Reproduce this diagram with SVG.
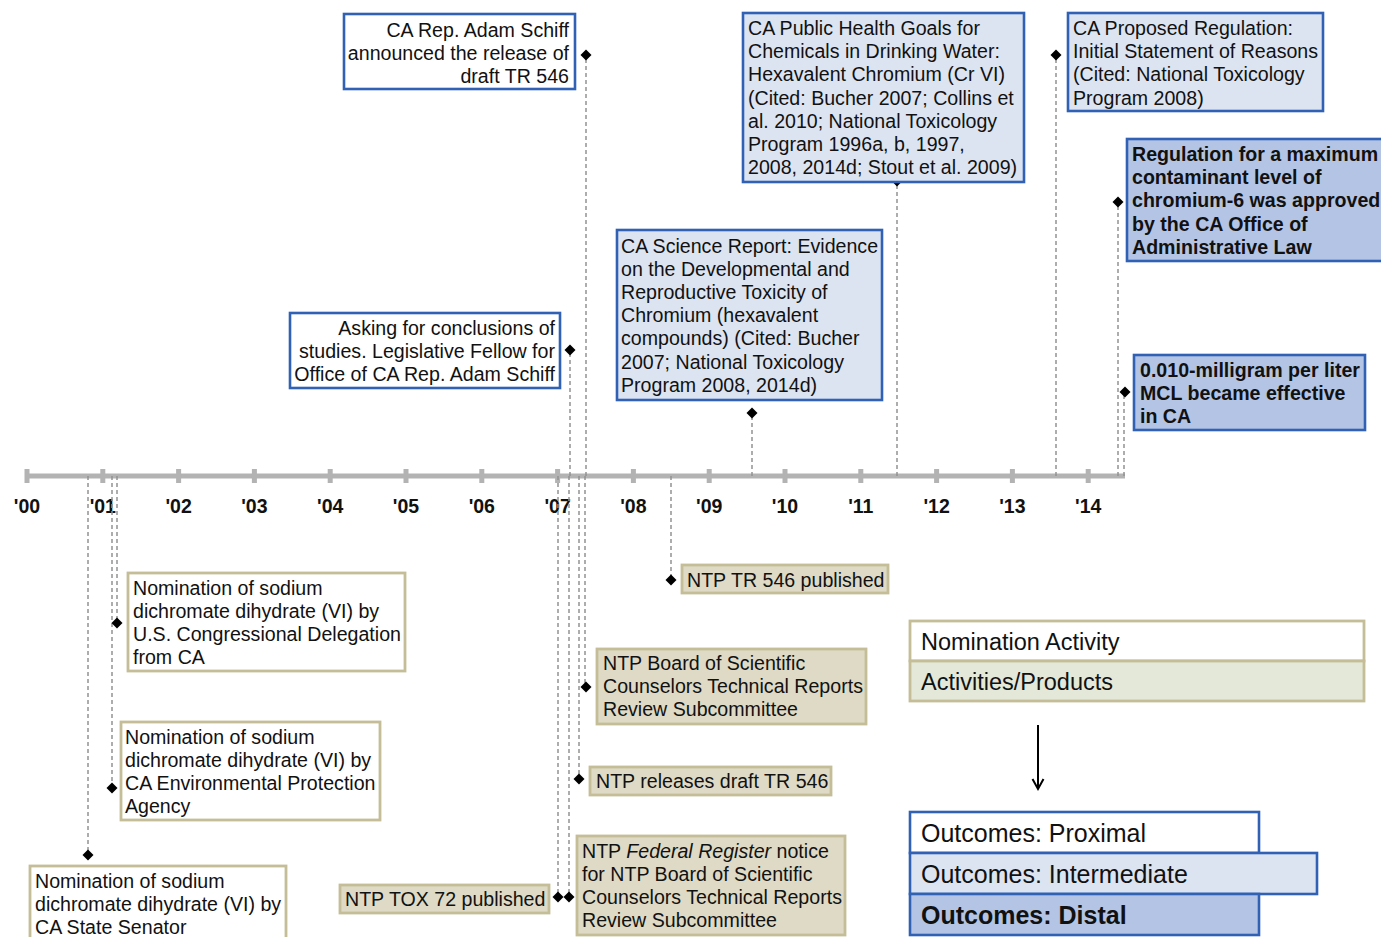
<svg xmlns="http://www.w3.org/2000/svg" xmlns:xlink="http://www.w3.org/1999/xlink" width="1381" height="937" viewBox="0 0 1381 937">
<style>
text{font-family:"Liberation Sans",Arial,sans-serif;font-size:19.6px;fill:#111}
.yr{font-weight:bold;font-size:19.5px;text-anchor:middle}
.b{font-weight:bold}
.r{text-anchor:end}
.prox{fill:#fff;stroke:#3061b4;stroke-width:2.6}
.inter{fill:#dce4f1;stroke:#3061b4;stroke-width:2.6}
.dist{fill:#b4c4e4;stroke:#3061b4;stroke-width:2.6}
.nom{fill:#fff;stroke:#c4bd97;stroke-width:2.8}
.act{fill:#dedac5;stroke:#c4bd97;stroke-width:2.8}
.act2{fill:#e4e8d8;stroke:#c4bd97;stroke-width:2.8}
.dash{stroke:#939393;stroke-width:1.5;stroke-dasharray:4 3;fill:none}
.lg{font-size:23.5px}
.lo{font-size:25px}
</style>
<defs>
<path id="dm" d="M0,-5.5 L5.5,0 L0,5.5 L-5.5,0Z" fill="#000"/>
</defs>
<rect width="1381" height="937" fill="#fff"/>

<g id="timeline">
<line x1="25" y1="476" x2="1125" y2="476" stroke="#b3b3b3" stroke-width="5"/>
<g fill="#b3b3b3">
<rect x="24.5" y="469" width="5" height="14"/>
<rect x="100.3" y="469" width="5" height="14"/>
<rect x="176.1" y="469" width="5" height="14"/>
<rect x="251.9" y="469" width="5" height="14"/>
<rect x="327.7" y="469" width="5" height="14"/>
<rect x="403.5" y="469" width="5" height="14"/>
<rect x="479.3" y="469" width="5" height="14"/>
<rect x="555.1" y="469" width="5" height="14"/>
<rect x="630.9" y="469" width="5" height="14"/>
<rect x="706.7" y="469" width="5" height="14"/>
<rect x="782.5" y="469" width="5" height="14"/>
<rect x="858.3" y="469" width="5" height="14"/>
<rect x="934.1" y="469" width="5" height="14"/>
<rect x="1009.9" y="469" width="5" height="14"/>
<rect x="1085.7" y="469" width="5" height="14"/>
</g>
<text class="yr" x="27" y="513">'00</text>
<text class="yr" x="102.8" y="513">'01</text>
<text class="yr" x="178.6" y="513">'02</text>
<text class="yr" x="254.4" y="513">'03</text>
<text class="yr" x="330.2" y="513">'04</text>
<text class="yr" x="406" y="513">'05</text>
<text class="yr" x="481.8" y="513">'06</text>
<text class="yr" x="557.6" y="513">'07</text>
<text class="yr" x="633.4" y="513">'08</text>
<text class="yr" x="709.2" y="513">'09</text>
<text class="yr" x="785" y="513">'10</text>
<text class="yr" x="860.8" y="513">'11</text>
<text class="yr" x="936.6" y="513">'12</text>
<text class="yr" x="1012.4" y="513">'13</text>
<text class="yr" x="1088.2" y="513">'14</text>
</g>

<g id="connectors">
<line class="dash" x1="570" y1="476" x2="570" y2="350"/>
<line class="dash" x1="586" y1="476" x2="586" y2="55"/>
<line class="dash" x1="752" y1="476" x2="752" y2="413"/>
<line class="dash" x1="897" y1="476" x2="897" y2="181"/>
<line class="dash" x1="1056" y1="476" x2="1056" y2="55"/>
<line class="dash" x1="1118" y1="476" x2="1118" y2="202"/>
<line class="dash" x1="1124" y1="476" x2="1124" y2="392"/>
<line class="dash" x1="88" y1="476" x2="88" y2="855"/>
<line class="dash" x1="112" y1="476" x2="112" y2="788"/>
<line class="dash" x1="117" y1="476" x2="117" y2="623"/>
<line class="dash" x1="558" y1="476" x2="558" y2="897"/>
<line class="dash" x1="569" y1="476" x2="569" y2="897"/>
<line class="dash" x1="579" y1="476" x2="579" y2="779"/>
<line class="dash" x1="585" y1="476" x2="585" y2="687"/>
<line class="dash" x1="671" y1="476" x2="671" y2="580"/>
<use href="#dm" x="570" y="350"/>
<use href="#dm" x="586" y="55"/>
<use href="#dm" x="752" y="413"/>
<use href="#dm" x="897" y="181"/>
<use href="#dm" x="1056" y="55"/>
<use href="#dm" x="1118" y="202"/>
<use href="#dm" x="1125" y="392"/>
<use href="#dm" x="88" y="855"/>
<use href="#dm" x="112" y="788"/>
<use href="#dm" x="117" y="623"/>
<use href="#dm" x="558" y="897"/>
<use href="#dm" x="569" y="897"/>
<use href="#dm" x="579" y="779"/>
<use href="#dm" x="586" y="687"/>
<use href="#dm" x="671" y="580"/>
<line x1="1038" y1="725" x2="1038" y2="788" stroke="#000" stroke-width="2"/>
<path d="M1032.5,779 L1038,789 L1043.5,779" fill="none" stroke="#000" stroke-width="2" stroke-linejoin="miter"/>
</g>

<g id="n-schiff-announced">
<rect class="prox" x="344" y="14" width="231" height="75"/>
<text class="r" x="569" y="36.5">CA Rep. Adam Schiff</text>
<text class="r" x="569" y="59.5">announced the release of</text>
<text class="r" x="569" y="82.5">draft TR 546</text>
</g>

<g id="n-asking">
<rect class="prox" x="290" y="313" width="270" height="75"/>
<text class="r" x="555" y="335">Asking for conclusions of</text>
<text class="r" x="555" y="358">studies. Legislative Fellow for</text>
<text class="r" x="555" y="381">Office of CA Rep. Adam Schiff</text>
</g>

<g id="n-phg">
<rect class="inter" x="743" y="13" width="281" height="169"/>
<text x="748" y="35">CA Public Health Goals for</text>
<text x="748" y="58.2">Chemicals in Drinking Water:</text>
<text x="748" y="81.4">Hexavalent Chromium (Cr VI)</text>
<text x="748" y="104.6">(Cited: Bucher 2007; Collins et</text>
<text x="748" y="127.8">al. 2010; National Toxicology</text>
<text x="748" y="151">Program 1996a, b, 1997,</text>
<text x="748" y="174.2">2008, 2014d; Stout et al. 2009)</text>
</g>

<g id="n-proposed">
<rect class="inter" x="1068" y="13" width="255" height="98"/>
<text x="1073" y="35">CA Proposed Regulation:</text>
<text x="1073" y="58.2">Initial Statement of Reasons</text>
<text x="1073" y="81.4">(Cited: National Toxicology</text>
<text x="1073" y="104.6">Program 2008)</text>
</g>

<g id="n-science">
<rect class="inter" x="617" y="230" width="265" height="170"/>
<text x="621" y="252.5">CA Science Report: Evidence</text>
<text x="621" y="275.7">on the Developmental and</text>
<text x="621" y="298.9">Reproductive Toxicity of</text>
<text x="621" y="322.1">Chromium (hexavalent</text>
<text x="621" y="345.3">compounds) (Cited: Bucher</text>
<text x="621" y="368.5">2007; National Toxicology</text>
<text x="621" y="391.7">Program 2008, 2014d)</text>
</g>

<g id="n-regulation">
<rect class="dist" x="1127" y="139" width="262" height="122"/>
<text class="b" x="1132" y="161">Regulation for a maximum</text>
<text class="b" x="1132" y="184.2">contaminant level of</text>
<text class="b" x="1132" y="207.4">chromium-6 was approved</text>
<text class="b" x="1132" y="230.6">by the CA Office of</text>
<text class="b" x="1132" y="253.8">Administrative Law</text>
</g>

<g id="n-mcl">
<rect class="dist" x="1134" y="355" width="231" height="75"/>
<text class="b" x="1140" y="376.5">0.010-milligram per liter</text>
<text class="b" x="1140" y="399.5">MCL became effective</text>
<text class="b" x="1140" y="422.5">in CA</text>
</g>

<g id="n-tr546-published">
<rect class="act" x="682" y="565" width="206" height="28"/>
<text x="687" y="586.5">NTP TR 546 published</text>
</g>

<g id="n-board">
<rect class="act" x="597" y="649" width="269" height="75"/>
<text x="603" y="670">NTP Board of Scientific</text>
<text x="603" y="693">Counselors Technical Reports</text>
<text x="603" y="716">Review Subcommittee</text>
</g>

<g id="n-draft-release">
<rect class="act" x="590" y="767" width="241" height="28"/>
<text x="596" y="788">NTP releases draft TR 546</text>
</g>

<g id="n-fedreg">
<rect class="act" x="577" y="836" width="268" height="99"/>
<text x="582" y="858">NTP <tspan font-style="italic">Federal Register</tspan> notice</text>
<text x="582" y="881">for NTP Board of Scientific</text>
<text x="582" y="904">Counselors Technical Reports</text>
<text x="582" y="927">Review Subcommittee</text>
</g>

<g id="n-tox72">
<rect class="act" x="340" y="885" width="209" height="28"/>
<text x="345" y="906">NTP TOX 72 published</text>
</g>

<g id="n-nom-congress">
<rect class="nom" x="128" y="573" width="277" height="98"/>
<text x="133" y="595">Nomination of sodium</text>
<text x="133" y="618">dichromate dihydrate (VI) by</text>
<text x="133" y="641">U.S. Congressional Delegation</text>
<text x="133" y="664">from CA</text>
</g>

<g id="n-nom-epa">
<rect class="nom" x="121" y="722" width="259" height="98"/>
<text x="125" y="744">Nomination of sodium</text>
<text x="125" y="767">dichromate dihydrate (VI) by</text>
<text x="125" y="790">CA Environmental Protection</text>
<text x="125" y="813">Agency</text>
</g>

<g id="n-nom-senator">
<rect class="nom" x="30" y="866" width="256" height="80"/>
<text x="35" y="888">Nomination of sodium</text>
<text x="35" y="911">dichromate dihydrate (VI) by</text>
<text x="35" y="934">CA State Senator</text>
</g>

<g id="legend">
<rect class="nom" x="910" y="621" width="454" height="40"/>
<rect class="act2" x="910" y="661" width="454" height="40"/>
<text class="lg" x="921" y="650">Nomination Activity</text>
<text class="lg" x="921" y="690">Activities/Products</text>
<rect class="prox" x="910" y="812" width="349" height="41"/>
<rect class="inter" x="910" y="853" width="407" height="41"/>
<rect class="dist" x="910" y="894" width="349" height="41"/>
<text class="lo" x="921" y="842">Outcomes: Proximal</text>
<text class="lo" x="921" y="883">Outcomes: Intermediate</text>
<text class="lo b" x="921" y="924">Outcomes: Distal</text>
</g>
</svg>
